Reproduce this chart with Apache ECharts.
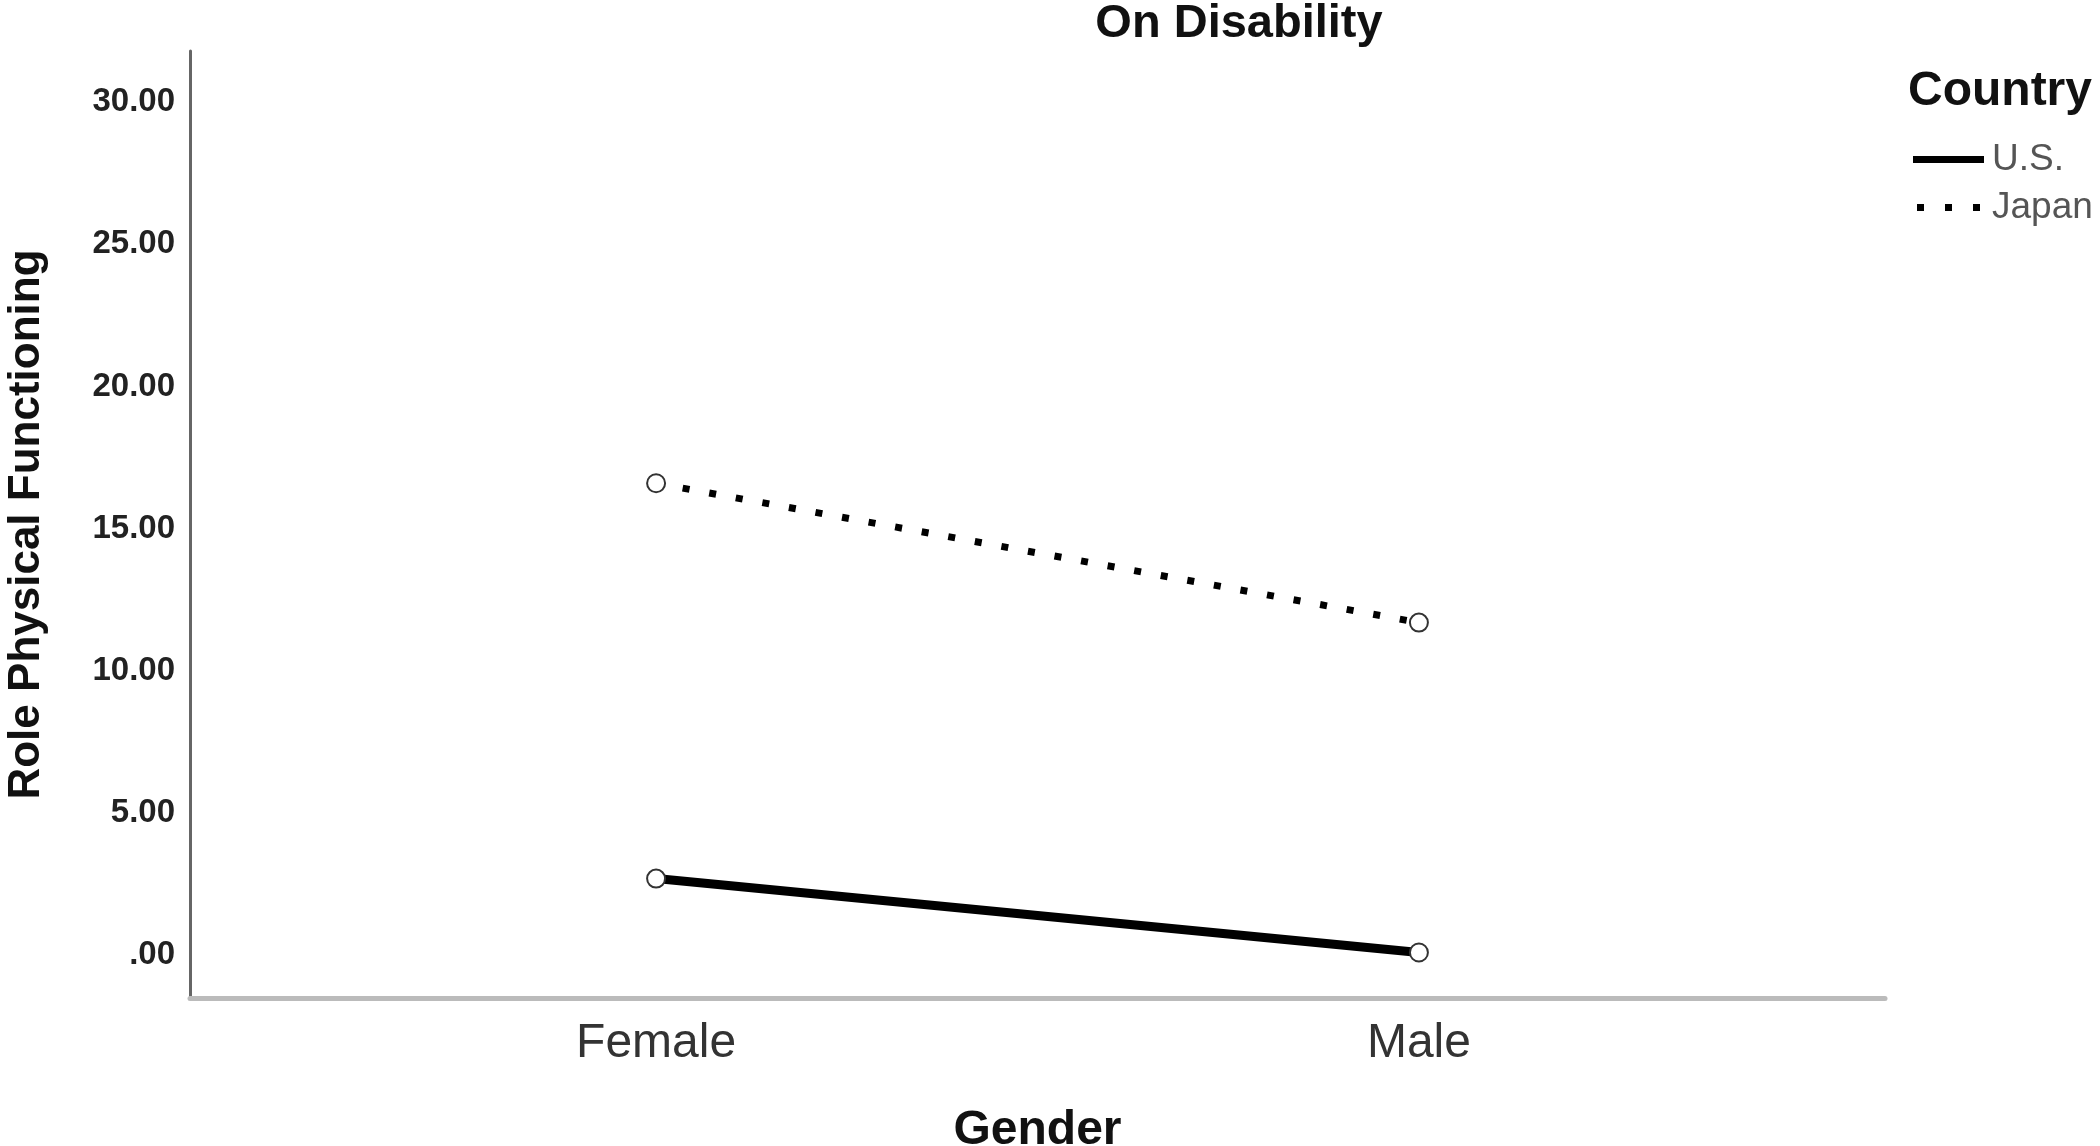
<!DOCTYPE html>
<html>
<head>
<meta charset="utf-8">
<title>On Disability</title>
<script src="https://cdn.jsdelivr.net/npm/echarts@6/dist/echarts.min.js"></script>
<style>
  html, body { margin: 0; padding: 0; background: #fff; }
  #chart { width: 2100px; height: 1146px; }
</style>
</head>
<body>
<div id="chart"></div>
<script>
// data
const genders = ['Female', 'Male']
const usValues = [2.7, 0.1]
const japanValues = [16.6, 11.7]
const yTicks = [0, 5, 10, 15, 20, 25, 30]

const font = '"Liberation Sans", Arial, sans-serif'

const chart = echarts.init(document.getElementById('chart'))

chart.setOption({
  animation: false,
  backgroundColor: '#fff',
  textStyle: { fontFamily: font },
  grid: { left: 190, right: 215, top: 51, bottom: 148, outerBoundsMode: 'none' },
  graphic: [
    {
      type: 'text',
      x: 1239, y: 24,
      style: {
        text: 'On Disability',
        font: 'bold 47px ' + font,
        fill: '#111',
        align: 'center',
        verticalAlign: 'middle'
      }
    },
    {
      type: 'text',
      x: 1908, y: 92,
      style: {
        text: 'Country',
        font: 'bold 48px ' + font,
        fill: '#111',
        align: 'left',
        verticalAlign: 'middle'
      }
    }
  ],
  legend: {
    orient: 'vertical',
    left: 1908,
    top: 136,
    itemWidth: 71,
    itemHeight: 7,
    itemGap: 11,
    itemStyle: { color: '#000', borderWidth: 0 },
    textStyle: { fontSize: 37, color: '#555', lineHeight: 36, padding: [0, 0, 0, 3] },
    data: [
      { name: 'U.S.', icon: 'rect' },
      { name: 'Japan', icon: 'path://M0,0h7v7h-7z M28,0h7v7h-7z M56,0h7v7h-7z' }
    ]
  },
  xAxis: {
    type: 'value',
    min: -0.611,
    max: 1.611,
    name: 'Gender',
    nameLocation: 'middle',
    nameGap: 109,
    nameTextStyle: { fontSize: 48, fontWeight: 'bold', color: '#111' },
    axisLine: { onZero: false, lineStyle: { color: '#bbb', width: 5 } },
    axisTick: { show: false },
    splitLine: { show: false },
    axisLabel: {
      customValues: [0, 1],
      formatter: v => genders[Math.round(v)],
      fontSize: 48,
      color: '#333',
      margin: 22
    }
  },
  yAxis: {
    type: 'value',
    min: -1.5,
    max: 31.8,
    name: 'Role Physical Functioning',
    nameLocation: 'middle',
    nameGap: 141,
    nameTextStyle: { fontSize: 44, fontWeight: 'bold', color: '#111' },
    axisLine: { show: true, onZero: false, lineStyle: { color: '#666', width: 3 } },
    axisTick: { show: false },
    splitLine: { show: false },
    axisLabel: {
      customValues: yTicks,
      formatter: v => (v === 0 ? '.00' : v.toFixed(2)),
      fontSize: 33,
      fontWeight: 'bold',
      color: '#222',
      margin: 15
    }
  },
  series: [
    {
      name: 'U.S.',
      type: 'line',
      data: usValues.map((v, i) => [i, v]),
      symbol: 'emptyCircle',
      symbolSize: 18,
      itemStyle: { color: '#333', borderWidth: 3 },
      lineStyle: { color: '#000', width: 9 },
      z: 3
    },
    {
      name: 'Japan',
      type: 'line',
      data: japanValues.map((v, i) => [i, v]),
      symbol: 'emptyCircle',
      symbolSize: 18,
      itemStyle: { color: '#333', borderWidth: 3 },
      lineStyle: { color: '#000', width: 7, type: [7, 20], cap: 'butt' },
      z: 3
    }
  ]
})
</script>
</body>
</html>
